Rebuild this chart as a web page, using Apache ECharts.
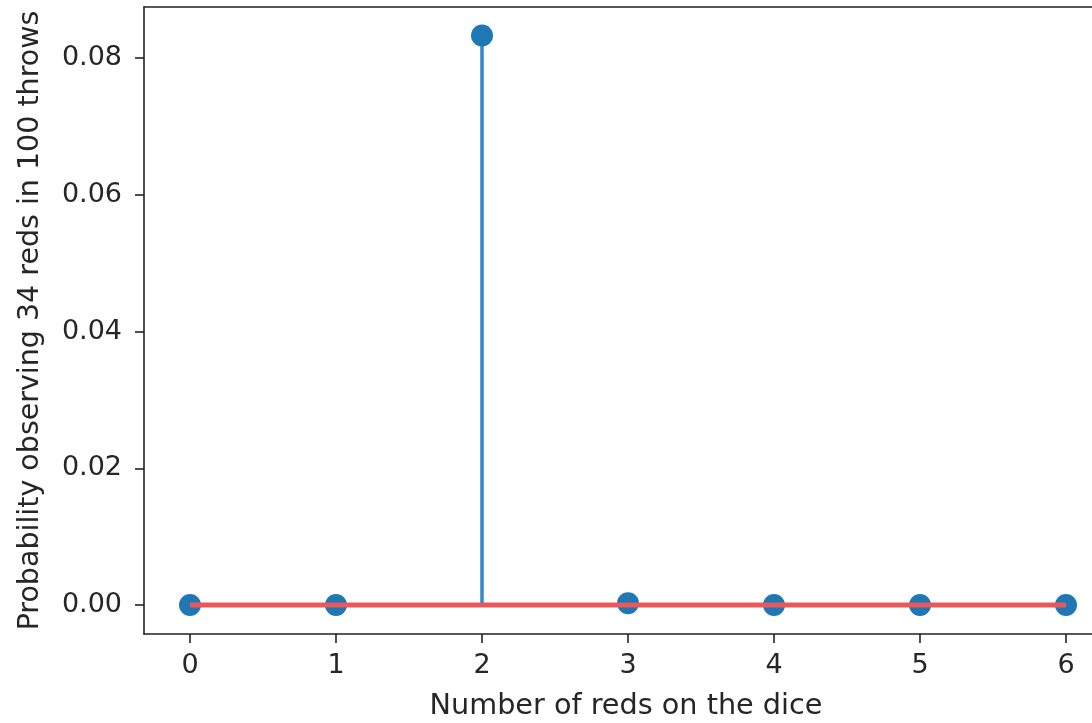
<!DOCTYPE html>
<html><head><meta charset="utf-8">
<script src="https://cdn.jsdelivr.net/npm/echarts@6/dist/echarts.min.js"></script>
<style>html,body{margin:0;padding:0;background:#fff}#c{width:1092px;height:723px}</style>
</head><body><div id="c"></div>
<script>
const categories = [0, 1, 2, 3, 4, 5, 6];
const probabilities = [0, 0, 0.0833, 0.00025, 0, 0, 0];
const xTicks = [0, 1, 2, 3, 4, 5, 6];
const yTicks = [0, 0.02, 0.04, 0.06, 0.08];

const points = categories.map((c, i) => [c, probabilities[i]]);
const font = 'DejaVu Sans';
const txt = '#262626';
const chart = echarts.init(document.getElementById('c'), null, {renderer: 'canvas'});
chart.setOption({
  animation: false,
  grid: {left: 144, right: 0, top: 7, bottom: 89, containLabel: false, outerBoundsMode: 'none'},
  xAxis: [{
    type: 'value', min: -0.315, max: 6.178,
    name: 'Number of reds on the dice', nameLocation: 'middle', nameGap: 58,
    nameTextStyle: {fontFamily: font, fontSize: 28.7, color: txt, padding: [0, 0, 0, 16]},
    axisLine: {show: true, onZero: false, lineStyle: {color: '#222', width: 1.6}},
    axisTick: {show: true, length: 9, lineStyle: {color: '#222', width: 1.6}, customValues: xTicks},
    axisLabel: {fontFamily: font, fontSize: 27, color: txt, margin: 18, customValues: xTicks,
      formatter: v => String(v)},
    splitLine: {show: false}
  }, {
    type: 'value', position: 'top', min: -0.315, max: 6.178,
    axisLine: {show: true, onZero: false, lineStyle: {color: '#222', width: 1.6}},
    axisTick: {show: false}, axisLabel: {show: false}, splitLine: {show: false}
  }],
  yAxis: {
    type: 'value', min: -0.00424, max: 0.08746,
    name: 'Probability observing 34 reds in 100 throws', nameLocation: 'middle', nameGap: 99,
    nameTextStyle: {fontFamily: font, fontSize: 28.5, color: txt},
    axisLine: {show: true, onZero: false, lineStyle: {color: '#222', width: 1.6}},
    axisTick: {show: true, length: 9, lineStyle: {color: '#222', width: 1.6}, customValues: yTicks},
    axisLabel: {fontFamily: font, fontSize: 27, color: txt, margin: 22, customValues: yTicks,
      formatter: v => v.toFixed(2)},
    splitLine: {show: false}
  },
  series: [{
    type: 'custom',
    data: points,
    z: 2,
    renderItem: (params, api) => {
      const p0 = api.coord([api.value(0), 0]);
      const p1 = api.coord([api.value(0), api.value(1)]);
      return {type: 'line', shape: {x1: p0[0], y1: p0[1], x2: p1[0], y2: p1[1]},
        style: {stroke: '#3189c6', lineWidth: 3.5}};
    }
  }, {
    type: 'scatter', data: points, symbolSize: 22, z: 3,
    itemStyle: {color: '#1f77b4', opacity: 1}
  }, {
    type: 'line', data: [[categories[0], 0], [categories[categories.length - 1], 0]],
    symbol: 'none', z: 4,
    lineStyle: {color: '#e8595c', width: 5}
  }]
});
</script></body></html>
